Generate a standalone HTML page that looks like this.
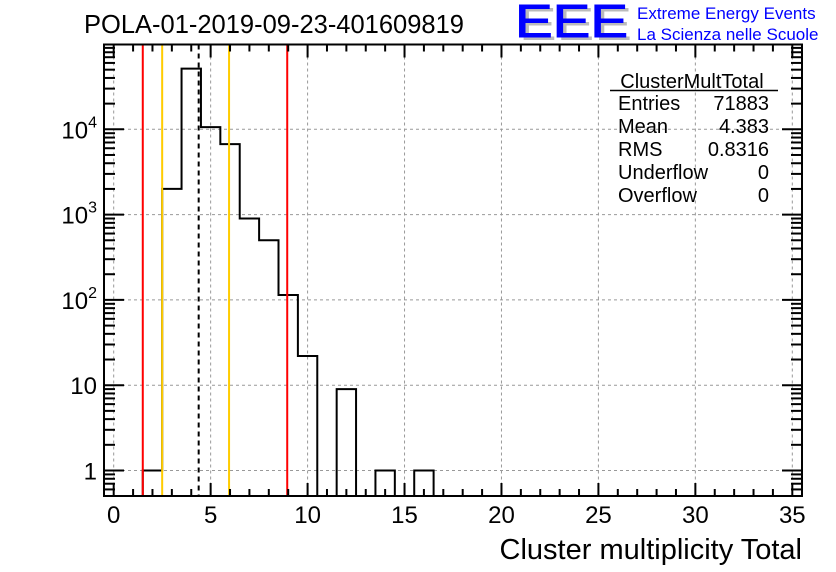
<!DOCTYPE html>
<html><head><meta charset="utf-8"><style>
html,body{margin:0;padding:0;background:#fff;}
svg{display:block;font-family:"Liberation Sans",Arial,sans-serif;}
</style></head><body>
<svg id="c" width="836" height="572" viewBox="0 0 836 572">
<text x="84" y="33" font-size="25.5">POLA-01-2019-09-23-401609819</text>
<g>
<text x="519" y="40" font-size="46" fill="#bbb" textLength="113" lengthAdjust="spacingAndGlyphs">EEE</text>
<text x="515" y="37" font-size="46" fill="#0000ff" textLength="113" lengthAdjust="spacingAndGlyphs" stroke="#0000ff" stroke-width="1">EEE</text>
<text x="637" y="19" font-size="17" fill="#0000ff">Extreme Energy Events</text>
<text x="637" y="40" font-size="17" fill="#0000ff">La Scienza nelle Scuole</text>
</g>
<g id="grid"></g><g id="marks"></g><g id="axes"></g>
<g font-size="20">
<text x="692" y="88" text-anchor="middle">ClusterMultTotal</text>
<line x1="610" y1="90.5" x2="778" y2="90.5" stroke="#000" stroke-width="1.5"/>
<text x="618" y="110">Entries</text><text x="769" y="110" text-anchor="end">71883</text>
<text x="618" y="133">Mean</text><text x="769" y="133" text-anchor="end">4.383</text>
<text x="618" y="156">RMS</text><text x="769" y="156" text-anchor="end">0.8316</text>
<text x="618" y="179">Underflow</text><text x="769" y="179" text-anchor="end">0</text>
<text x="618" y="202">Overflow</text><text x="769" y="202" text-anchor="end">0</text>
</g>
<text x="802" y="559" font-size="29" text-anchor="end">Cluster multiplicity Total</text>
</svg>
<script>
const binCenters=[2,3,4,5,6,7,8,9,10,11,12,13,14,15,16];
const binCounts=[1,2000,51500,10600,6700,900,500,114,22,0,9,0,1,0,1];
const xTicks=[0,5,10,15,20,25,30,35];
const yTicks=[1,10,100,1000,10000];
const yTickLabels=["1","10","10^2","10^3","10^4"];
const redLines=[1.5,8.95];
const orangeLines=[2.5,5.95];
const meanLine=[4.383];
const NS="http://www.w3.org/2000/svg";
const L=104,R=802,T=44.5,B=496;
const X0=-0.5,X1=35.5;
const sx=v=>L+(v-X0)/(X1-X0)*(R-L);
const sy=v=>470.5-Math.log10(v)*85.3;
function mk(tag,attrs,parent){const e=document.createElementNS(NS,tag);for(const k in attrs)e.setAttribute(k,attrs[k]);parent.appendChild(e);return e;}
const grid=document.getElementById('grid'),marks=document.getElementById('marks'),axes=document.getElementById('axes');
xTicks.forEach(t=>{const l=mk('line',{x1:sx(t),x2:sx(t),y1:T,y2:B,stroke:'#999','stroke-dasharray':'3,3','stroke-width':1},grid);

});
yTicks.forEach(t=>{const l=mk('line',{x1:L,x2:R,y1:sy(t),y2:sy(t),stroke:'#999','stroke-dasharray':'3,3','stroke-width':1},grid);

});
let d='';let first=true;
binCenters.forEach((c,i)=>{const v=binCounts[i];const x0=sx(c-0.5),x1=sx(c+0.5);
 const y=v>0?sy(v):B;
 if(first){d+=`M${x0},${B}`;first=false;}
 d+=` L${x0},${y} L${x1},${y}`;});
d+=` L${sx(binCenters[binCenters.length-1]+0.5)},${B}`;
const h=mk('path',{d:d,fill:'none',stroke:'#000','stroke-width':2},marks);


redLines.forEach(v=>{const l=mk('line',{x1:sx(v),x2:sx(v),y1:T,y2:B,stroke:'#ff0000','stroke-width':2},marks);

});
orangeLines.forEach(v=>{const l=mk('line',{x1:sx(v),x2:sx(v),y1:T,y2:B,stroke:'#ffcc00','stroke-width':2},marks);

});
meanLine.forEach(v=>{const l=mk('line',{x1:sx(v),x2:sx(v),y1:T,y2:B,stroke:'#000','stroke-width':2,'stroke-dasharray':'5,4'},marks);

});
const f=mk('rect',{x:L,y:T,width:R-L,height:B-T,fill:'none',stroke:'#000','stroke-width':2},axes);


for(let v=0;v<=35;v+=1){const maj=v%5===0;const len=maj?13:7;
 mk('line',{x1:sx(v),x2:sx(v),y1:B,y2:B-len,stroke:'#000','stroke-width':2},axes);
 mk('line',{x1:sx(v),x2:sx(v),y1:T,y2:T+len,stroke:'#000','stroke-width':2},axes);}
xTicks.forEach(t=>{const e=mk('text',{x:sx(t),y:523,'font-size':24,'text-anchor':'middle'},axes);e.textContent=t;

});
for(let p=-1;p<=4;p++){for(let m=1;m<=9;m++){const v=m*Math.pow(10,p);const y=sy(v);if(y>B||y<T)continue;
 const len=m===1?20:11;
 mk('line',{x1:L,x2:L+len,y1:y,y2:y,stroke:'#000','stroke-width':2},axes);
 mk('line',{x1:R,x2:R-len,y1:y,y2:y,stroke:'#000','stroke-width':2},axes);}}
yTicks.forEach((t,i)=>{const lab=yTickLabels[i];const y=sy(t)+9;
 const e=mk('text',{x:97,y:y,'font-size':24,'text-anchor':'end'},axes);
 if(lab.includes('^')){const [b,ex]=lab.split('^');e.textContent=b;const s=mk('tspan',{dy:-11,'font-size':16},e);s.textContent=ex;}
 else e.textContent=lab;
 
 });
</script>
</body></html>
